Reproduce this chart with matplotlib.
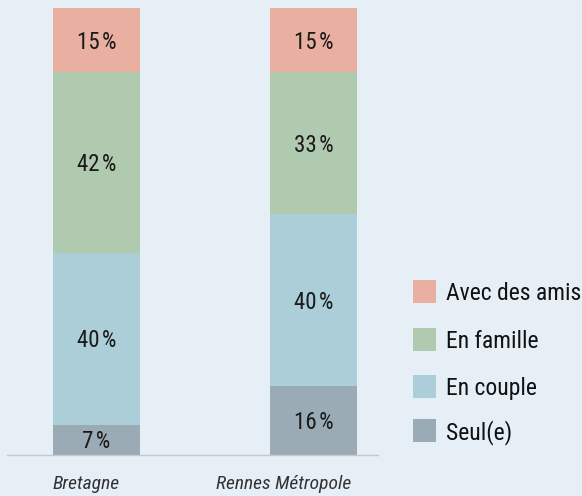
import matplotlib
matplotlib.use("Agg")
import matplotlib.pyplot as plt
from matplotlib.patches import Rectangle

# data
categories = ["Bretagne", "Rennes Métropole"]
series = ["Seul(e)", "En couple", "En famille", "Avec des amis"]
seul = [7, 16]
couple = [40, 40]
famille = [42, 33]
amis = [15, 15]
values = [seul, couple, famille, amis]

colors = ["#9AABB5", "#ABCED8", "#AFCAAE", "#E9AFA0"]
bg = "#E6EFF6"
font = ["Roboto Condensed", "DejaVu Sans"]

W, H = 582, 496
fig = plt.figure(figsize=(W / 100, H / 100), dpi=100, facecolor=bg)
ax = fig.add_axes([7 / W, 1 - 455 / H, (378 - 7) / W, (455 - 8) / H])
ax.set_facecolor(bg)

x = list(range(len(categories)))
bottom = [0] * len(categories)
for vals, col in zip(values, colors):
    ax.bar(x, vals, width=0.4, bottom=bottom, color=col, linewidth=0)
    for xi, b, v in zip(x, bottom, vals):
        ax.annotate(f"{v}\u200a%", (xi, b + v / 2), xytext=(0, -6), textcoords="offset points",
                    ha="center", va="baseline", fontsize=16.5, family=font, color="#1a1a1a")
    bottom = [b + v for b, v in zip(bottom, vals)]

ax.set_xlim(-0.411, 1.297)
ax.set_ylim(0, max(bottom))
for s in ["top", "right", "left"]:
    ax.spines[s].set_visible(False)
ax.spines["bottom"].set_color("#c4c8cc")
ax.spines["bottom"].set_linewidth(1)
ax.set_xticks([])
ax.set_yticks([])

# category labels (slightly left of bar centre, as in the original)
label_shift = [-7.6, -21.5]
for xi, cat, dx in zip(x, categories, label_shift):
    ax.annotate(cat, (xi, 0), xycoords=("data", "axes fraction"), xytext=(dx, -24.5),
                textcoords="offset points", ha="center", va="baseline", fontsize=14,
                style="italic", family=font, color="#333333")

# legend drawn by hand
legend_y = [291, 339.5, 386, 430.5]
for name, col, yc in zip(series[::-1], colors[::-1], legend_y):
    fig.patches.append(Rectangle((413 / W, 1 - (yc + 11.5) / H), 23 / W, 23 / H,
                                 transform=fig.transFigure, color=col, linewidth=0))
    fig.text(446 / W, 1 - (yc + 8.5) / H, name, fontsize=17, family=font,
             color="#111111", va="baseline", ha="left")

fig.savefig("out.png", facecolor=bg)
